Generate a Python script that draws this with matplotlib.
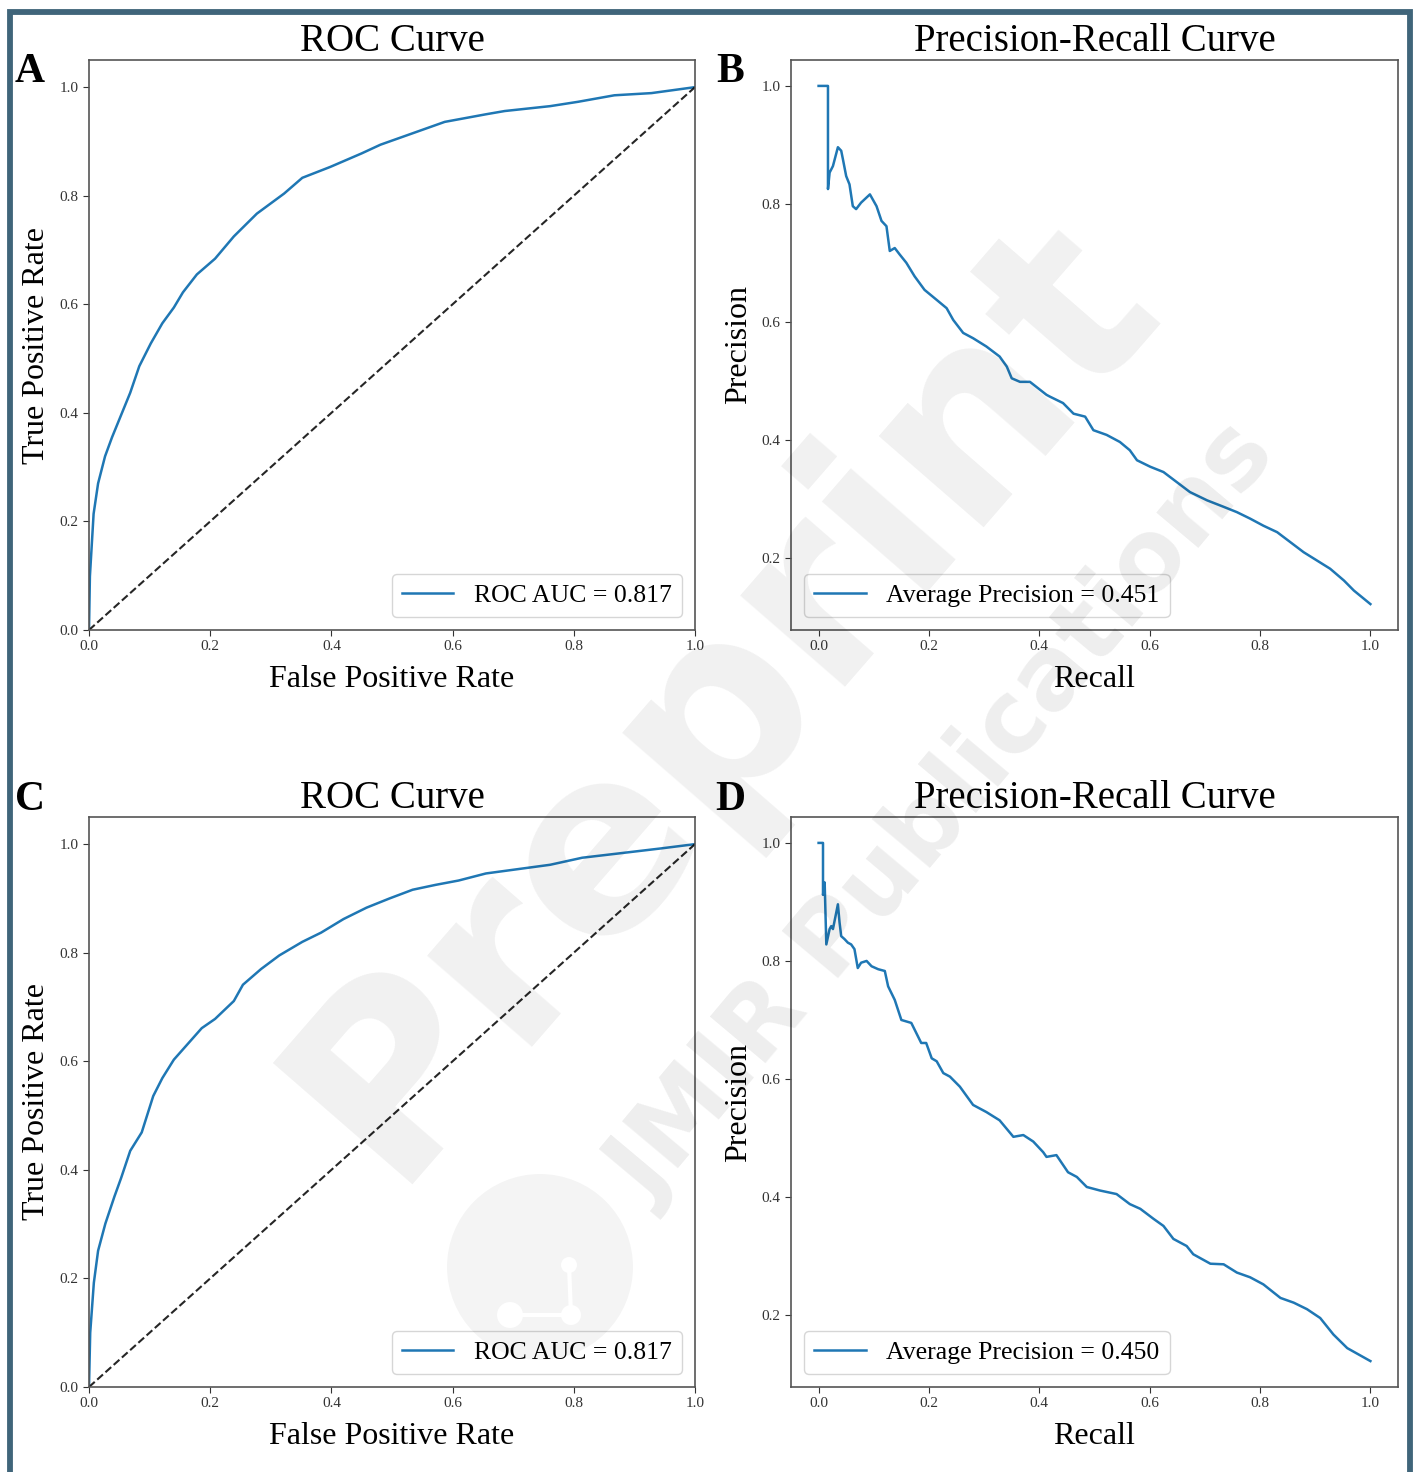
import matplotlib.pyplot as plt
import matplotlib.patches as patches
from matplotlib.lines import Line2D

plt.rcParams['font.family'] = ['Liberation Serif', 'DejaVu Serif']

# ROC curve, panel A
roc_fpr_a = [0.0, 0.0015, 0.0076, 0.015, 0.0265, 0.038, 0.053, 0.068, 0.083, 0.102,
             0.121, 0.14, 0.155, 0.178, 0.208, 0.239, 0.277, 0.322, 0.352, 0.398,
             0.45, 0.481, 0.534, 0.587, 0.655, 0.686, 0.761, 0.807, 0.867, 0.928, 1.0]
roc_tpr_a = [0.0, 0.099, 0.214, 0.27, 0.32, 0.355, 0.396, 0.437, 0.486, 0.528,
             0.565, 0.594, 0.622, 0.655, 0.684, 0.725, 0.767, 0.804, 0.833, 0.853,
             0.878, 0.894, 0.915, 0.936, 0.95, 0.956, 0.965, 0.973, 0.985, 0.989, 1.0]

# ROC curve, panel C
roc_fpr_c = [0.0, 0.002, 0.008, 0.015, 0.027, 0.042, 0.053, 0.068, 0.087, 0.106,
             0.121, 0.14, 0.163, 0.186, 0.208, 0.239, 0.254, 0.284, 0.314, 0.352,
             0.383, 0.42, 0.458, 0.496, 0.534, 0.572, 0.61, 0.655, 0.708, 0.761,
             0.814, 0.875, 0.943, 1.0]
roc_tpr_c = [0.0, 0.1, 0.192, 0.251, 0.301, 0.351, 0.385, 0.435, 0.469, 0.536,
             0.569, 0.603, 0.632, 0.661, 0.678, 0.711, 0.741, 0.77, 0.795, 0.82,
             0.837, 0.862, 0.883, 0.9, 0.916, 0.925, 0.933, 0.946, 0.954, 0.962,
             0.975, 0.983, 0.992, 1.0]

# Precision-recall curve, panel B
pr_recall_b = [0.0, 0.017, 0.017, 0.02, 0.026, 0.035, 0.041, 0.044, 0.05, 0.056,
               0.062, 0.068, 0.077, 0.093, 0.105, 0.114, 0.123, 0.129, 0.138, 0.147,
               0.159, 0.174, 0.192, 0.214, 0.232, 0.244, 0.262, 0.28, 0.304, 0.328,
               0.341, 0.35, 0.365, 0.383, 0.398, 0.413, 0.419, 0.443, 0.462, 0.483,
               0.498, 0.522, 0.546, 0.564, 0.577, 0.601, 0.625, 0.649, 0.673, 0.704,
               0.734, 0.758, 0.782, 0.806, 0.831, 0.855, 0.879, 0.903, 0.927, 0.952,
               0.97, 1.0]
pr_precision_b = [1.0, 1.0, 0.825, 0.853, 0.864, 0.896, 0.89, 0.876, 0.847, 0.833,
                  0.796, 0.791, 0.802, 0.816, 0.796, 0.771, 0.762, 0.72, 0.725, 0.714,
                  0.7, 0.677, 0.654, 0.637, 0.623, 0.603, 0.581, 0.572, 0.558, 0.541,
                  0.524, 0.504, 0.498, 0.498, 0.487, 0.476, 0.473, 0.462, 0.444, 0.439,
                  0.416, 0.408, 0.396, 0.382, 0.365, 0.354, 0.345, 0.328, 0.311, 0.297,
                  0.286, 0.277, 0.266, 0.254, 0.243, 0.226, 0.209, 0.195, 0.181, 0.161,
                  0.144, 0.121]

# Precision-recall curve, panel D
pr_recall_d = [0.0, 0.008, 0.008, 0.011, 0.014, 0.02, 0.023, 0.026, 0.035, 0.038,
               0.041, 0.047, 0.053, 0.059, 0.065, 0.071, 0.077, 0.087, 0.096, 0.108,
               0.12, 0.126, 0.138, 0.15, 0.168, 0.177, 0.186, 0.195, 0.205, 0.214,
               0.226, 0.238, 0.256, 0.28, 0.304, 0.328, 0.353, 0.371, 0.389, 0.407,
               0.413, 0.431, 0.452, 0.468, 0.486, 0.51, 0.54, 0.564, 0.583, 0.607,
               0.625, 0.643, 0.667, 0.679, 0.71, 0.734, 0.758, 0.782, 0.806, 0.837,
               0.861, 0.885, 0.909, 0.933, 0.958, 0.979, 1.0]
pr_precision_d = [1.0, 1.0, 0.912, 0.933, 0.828, 0.854, 0.859, 0.854, 0.896, 0.865,
                  0.842, 0.837, 0.831, 0.828, 0.82, 0.788, 0.797, 0.8, 0.791, 0.786,
                  0.783, 0.757, 0.734, 0.7, 0.695, 0.678, 0.661, 0.661, 0.635, 0.63,
                  0.61, 0.604, 0.587, 0.556, 0.544, 0.53, 0.502, 0.505, 0.494, 0.476,
                  0.468, 0.471, 0.442, 0.434, 0.417, 0.411, 0.405, 0.388, 0.38, 0.363,
                  0.351, 0.329, 0.317, 0.303, 0.287, 0.286, 0.272, 0.264, 0.252, 0.229,
                  0.221, 0.21, 0.195, 0.167, 0.144, 0.133, 0.122]

roc_auc = [0.817, 0.817]
avg_precision = [0.451, 0.450]
panel_letters = ['A', 'B', 'C', 'D']

W, H = 1414, 1472
fig = plt.figure(figsize=(W / 100, H / 100), dpi=100)
fig.patch.set_facecolor('white')

curve_color = '#1f77b4'
spine_color = '#555555'


def px_axes(left, top, right, bottom):
    return fig.add_axes([left / W, 1 - bottom / H, (right - left) / W, (bottom - top) / H])


def style_axes(ax):
    for s in ax.spines.values():
        s.set_color(spine_color)
        s.set_linewidth(1.2)
    ax.tick_params(labelsize=11, colors='#333333', length=4)


def draw_roc(ax, fpr, tpr, auc):
    ax.plot(fpr, tpr, color=curve_color, lw=1.8, label=f'ROC AUC = {auc:.3f}')
    ax.plot([0, 1], [0, 1], 'k--', lw=1.5, alpha=0.85)
    ax.set_xlim(0, 1)
    ax.set_ylim(0, 1.05)
    ax.set_title('ROC Curve', fontsize=28)
    ax.set_xlabel('False Positive Rate', fontsize=23, labelpad=8)
    ax.set_ylabel('True Positive Rate', fontsize=23, labelpad=6)
    ax.legend(loc='lower right', fontsize=18.5)
    style_axes(ax)


def draw_pr(ax, recall, precision, ap):
    ax.plot(recall, precision, color=curve_color, lw=1.8,
            label=f'Average Precision = {ap:.3f}')
    ax.set_title('Precision-Recall Curve', fontsize=28)
    ax.set_xlabel('Recall', fontsize=23, labelpad=8)
    ax.set_ylabel('Precision', fontsize=23, labelpad=6)
    ax.legend(loc='lower left', fontsize=18.5)
    style_axes(ax)


ax_a = px_axes(89, 60, 695, 630)
ax_b = px_axes(791, 60, 1398, 630)
ax_c = px_axes(89, 817, 695, 1387)
ax_d = px_axes(791, 817, 1398, 1387)

draw_roc(ax_a, roc_fpr_a, roc_tpr_a, roc_auc[0])
draw_pr(ax_b, pr_recall_b, pr_precision_b, avg_precision[0])
draw_roc(ax_c, roc_fpr_c, roc_tpr_c, roc_auc[1])
draw_pr(ax_d, pr_recall_d, pr_precision_d, avg_precision[1])

# panel letters
for letter, (x, y) in zip(panel_letters, [(30, 72), (730, 72), (30, 800), (730, 800)]):
    fig.text(x / W, 1 - y / H, letter, fontsize=30, fontweight='bold',
             ha='center', va='center')

# watermark
fig.text(722 / W, 1 - 695 / H, 'Preprint', fontsize=182, fontweight='bold',
         family='DejaVu Sans', rotation=49, ha='center', va='center',
         color='black', alpha=0.06, zorder=5)
fig.text(945 / W, 1 - 815 / H, 'JMIR Publications', fontsize=72, fontweight='bold',
         family='DejaVu Sans', rotation=50, ha='center', va='center',
         color='black', alpha=0.07, zorder=5)
logo = patches.Ellipse((540 / W, 1 - 1267 / H), 186 / W, 186 / H,
                       transform=fig.transFigure, facecolor='black', alpha=0.045,
                       edgecolor='none', zorder=5)
fig.patches.append(logo)
for (x0, y0), (x1, y1) in [((569, 1265), (571, 1315)), ((510, 1315), (571, 1315))]:
    fig.lines.append(Line2D([x0 / W, x1 / W], [1 - y0 / H, 1 - y1 / H],
                            transform=fig.transFigure, color='white', lw=3, zorder=6))
for (x, y), r in zip([(569, 1265), (510, 1315), (571, 1315)], [8, 13, 10]):
    fig.patches.append(patches.Ellipse((x / W, 1 - y / H), 2 * r / W, 2 * r / H,
                                       transform=fig.transFigure, facecolor='white',
                                       edgecolor='none', zorder=6))

# outer frame
frame = patches.Rectangle((9.5 / W, -0.02), 1400 / W, 1.02 - 12 / H,
                          transform=fig.transFigure, fill=False,
                          edgecolor='#40657a', linewidth=4.2, zorder=10)
fig.patches.append(frame)

fig.savefig('out.png', dpi=100)
